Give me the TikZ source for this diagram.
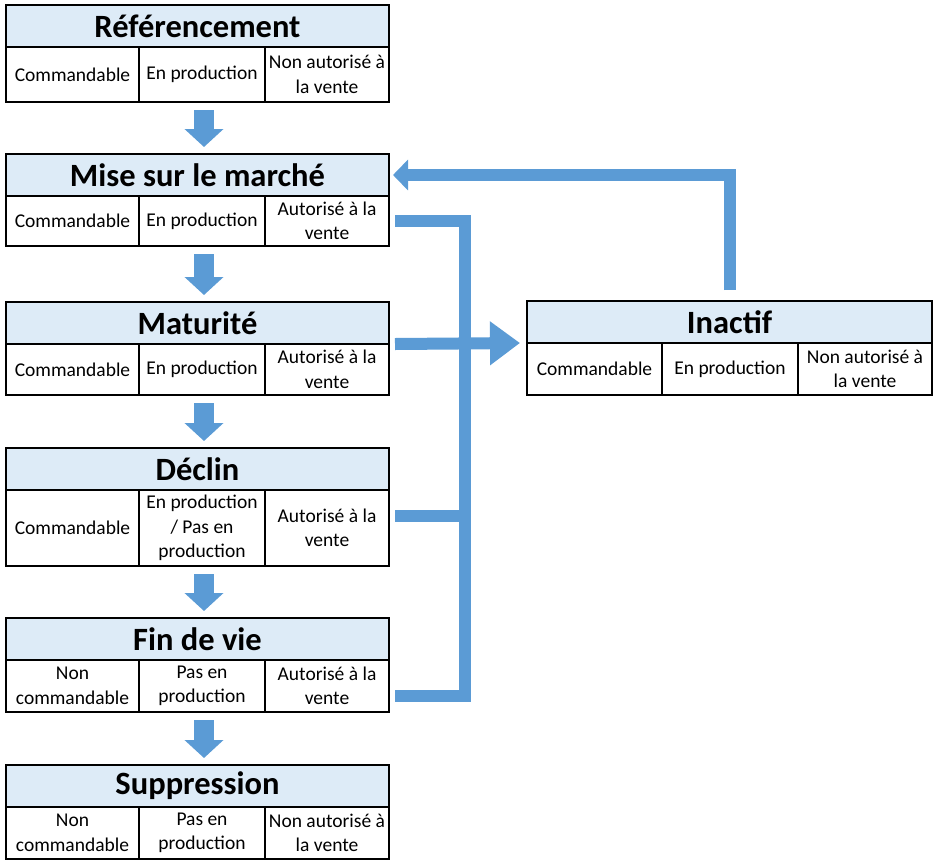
\documentclass[tikz,border=0pt]{standalone}
\usepackage{fontspec}
\setmainfont{Carlito}
\usetikzlibrary{arrows.meta}
\definecolor{hdrfill}{HTML}{DDEBF7}
\definecolor{blu}{HTML}{5B9BD5}
\newcommand{\wa}{133}
\newcommand{\wb}{126}
\newcommand{\wc}{124}
\newcommand{\stagebox}[8]{%
  \node[hdrbox, minimum width=\wa+\wb+\wc, anchor=north west] (#1-h) at (#2,#3) {#4};
  \node[cellbox, minimum width=\wa, minimum height=#8, anchor=north west] (#1-a) at (#1-h.south west) {#5};
  \node[cellbox, minimum width=\wb, minimum height=#8, anchor=north west] (#1-b) at (#1-a.north east) {#6};
  \node[cellbox, minimum width=\wc, minimum height=#8, anchor=north west] (#1-c) at (#1-b.north east) {#7};
  \draw[line width=2.4pt] (#1-h.north west) rectangle (#1-c.south east);
}
\begin{document}
\begin{tikzpicture}[x=1pt,y=-1pt,
  hdrbox/.style={draw=black, line width=1.2pt, fill=hdrfill, outer sep=0pt, inner sep=0pt,
    minimum height=42, font=\fontsize{32.5}{34}\selectfont\bfseries},
  cellbox/.style={draw=black, line width=1.2pt, fill=white, outer sep=0pt, inner sep=0pt,
    align=center, font=\fontsize{19.5}{24.5}\selectfont},
  downarrow/.style={draw=blu, line width=20pt, -{Triangle[width=38pt,length=18pt]}},
  conn/.style={draw=blu, line width=12pt, line join=miter},
]
\useasboundingbox (0,0) rectangle (934,860);

\stagebox{ref}{6}{5}{Référencement}{Commandable}{En production}{Non autorisé à\\la vente}{55}
\stagebox{mise}{6}{154}{Mise sur le marché}{Commandable}{En production}{Autorisé à la\\vente}{50}
\stagebox{mat}{6}{302}{Maturité}{Commandable}{En production}{Autorisé à la\\vente}{51}
\stagebox{dec}{6}{448}{Déclin}{Commandable}{En production\\/ Pas en\\production}{Autorisé à la\\vente}{76}
\stagebox{fin}{6}{618}{Fin de vie}{Non\\commandable}{Pas en\\production}{Autorisé à la\\vente}{52}
\stagebox{sup}{6}{765}{Suppression}{Non\\commandable}{Pas en\\production}{Non autorisé à\\la vente}{52}

\renewcommand{\wa}{135}
\renewcommand{\wb}{136}
\renewcommand{\wc}{134}
\stagebox{inac}{527}{301}{Inactif}{Commandable}{En production}{Non autorisé à\\la vente}{52}

% down arrows
\coordinate (ax) at (204,0);
\draw[downarrow] ([yshift=-8pt]ax |- ref-b.south) -- ([yshift=7pt]ax |- mise-h.north);
\draw[downarrow] ([yshift=-8pt]ax |- mise-b.south) -- ([yshift=7pt]ax |- mat-h.north);
\draw[downarrow] ([yshift=-8pt]ax |- mat-b.south) -- ([yshift=7pt]ax |- dec-h.north);
\draw[downarrow] ([yshift=-8pt]ax |- dec-b.south) -- ([yshift=7pt]ax |- fin-h.north);
\draw[downarrow] ([yshift=-8pt]ax |- fin-b.south) -- ([yshift=7pt]ax |- sup-h.north);

% bus to the right
\coordinate (bus) at (465,0);
\coordinate (mise-out) at ([xshift=6pt]mise-c.east);
\coordinate (dec-out) at ([xshift=6pt,yshift=12pt]dec-c.east);
\coordinate (fin-out) at ([xshift=6pt,yshift=-10pt]fin-c.east);
\coordinate (dec-in) at ([xshift=6pt]bus |- dec-out);
\draw[conn] (mise-out) -| (bus |- fin-out) -- (fin-out);
\draw[conn] (dec-out) -- (dec-in);
\draw[conn, -{Triangle[width=42pt,length=30pt]}] ([xshift=6pt]mat-h.south east) -- ([xshift=-7pt]inac-h.south west);

% return arrow
\draw[conn, -{Triangle[width=30pt,length=15pt]}] ([yshift=11pt]inac-h.north) |- ([xshift=4pt]mise-h.east);
\end{tikzpicture}
\end{document}
